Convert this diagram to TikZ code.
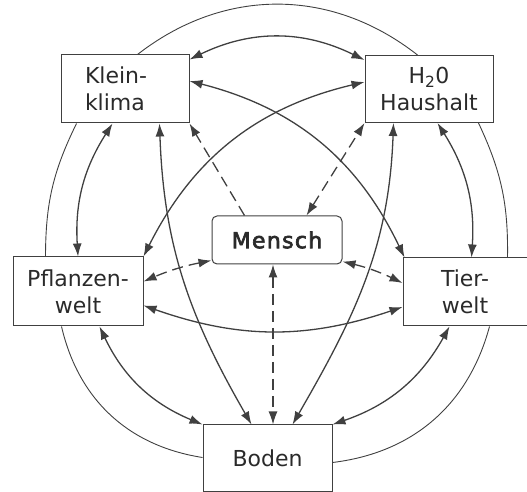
\documentclass[tikz,border=0pt]{standalone}
\usepackage{fontspec}
\setmainfont{DejaVu Sans}
\newfontfamily\menschfont[FakeBold=3,LetterSpace=6]{DejaVu Sans}
\usetikzlibrary{arrows.meta,positioning}
\definecolor{LineGray}{HTML}{404040}
\definecolor{TextGray}{HTML}{2A2A2A}

\begin{document}
\begin{tikzpicture}[x=1pt,y=1pt,>={Latex[length=13pt,width=9pt]}]
\tikzstyle{box}=[draw=LineGray,line width=1pt,align=center,inner sep=0pt,text=TextGray,font=\fontsize{22}{27}\selectfont]
\tikzstyle{ring}=[draw=LineGray,line width=0.9pt]
\tikzstyle{link}=[draw=LineGray,line width=1.3pt,<->]
\tikzstyle{human}=[draw=LineGray,line width=1.3pt,dash pattern=on 11pt off 6pt]
\useasboundingbox (0,0) rectangle (527,492);
\node[box,minimum width=128pt,minimum height=68pt,text width=80pt,align=left] (klima) at (125,403) {Klein-\\klima};
\node[box,minimum width=128pt,minimum height=67pt,right=175pt of klima] (wasser) {H\textsubscript{2}0\\Haushalt};
\node[box,minimum width=130pt,minimum height=69pt] (pflanzen) at (78,200.5) {Pflanzen-\\welt};
\node[box,minimum width=124pt,minimum height=68pt] (tier) at (465,200) {Tier-\\welt};
\node[box,minimum width=129pt,minimum height=67pt] (boden) at (267.5,33.5) {Boden};
\node[box,rounded corners=5pt,minimum width=130pt,minimum height=48pt,font=\menschfont\fontsize{22}{27}\selectfont] (mensch) at (277,252) {Mensch};
\draw[ring] ([xshift=77pt]klima.north west) to[bend left=38] ([xshift=53pt]wasser.north west);
\draw[ring] ([xshift=-15pt]wasser.south east) to[bend left=13] ([xshift=-20pt]tier.north east);
\draw[ring] ([xshift=-38pt]tier.south east) to[bend left=34] ([yshift=-4pt]boden.east);
\draw[ring] ([yshift=1pt]boden.west) to[bend left=34] ([xshift=49pt]pflanzen.south west);
\draw[ring] ([xshift=33pt]pflanzen.north west) to[bend left=13] ([xshift=16pt]klima.south west);
\draw[link] ([yshift=-5pt]klima.north east) to[bend left=26] ([yshift=-5pt]wasser.north west);
\draw[link] ([xshift=73pt]wasser.south west) to[bend left=18] ([xshift=69pt]tier.north west);
\draw[link] ([xshift=47pt]tier.south west) to[bend left=21] (boden.north east);
\draw[link] (boden.north west) to[bend left=21] ([xshift=87pt]pflanzen.south west);
\draw[link] (pflanzen.north) to[bend left=18] ([xshift=52pt]klima.south west);
\draw[link] ([yshift=8pt]klima.east) to[bend left=25] ([xshift=2pt]tier.north west);
\draw[link] ([yshift=7pt]wasser.west) to[bend right=25] (pflanzen.north east);
\draw[link] ([xshift=99pt]klima.south west) to[out=-88,in=120] ([xshift=49pt]boden.north west);
\draw[link] ([xshift=29pt]wasser.south west) to[out=-92,in=60] ([xshift=90pt]boden.north west);
\draw[link] ([yshift=-14pt]pflanzen.east) to[bend right=19] ([yshift=-15pt]tier.west);
\draw[human,->] ([xshift=33pt]mensch.north west) -- (klima.south east);
\draw[human,<->] ([xshift=95pt]mensch.north west) -- (wasser.south west);
\draw[human,<->] ([yshift=4pt]mensch.south west) to[bend right=6] ([yshift=10pt]pflanzen.east);
\draw[human,<->] ([yshift=3pt]mensch.south east) to[bend left=6] ([yshift=9pt]tier.west);
\draw[human,<->] ([xshift=-4pt]mensch.south) -- ([xshift=5.5pt]boden.north);
\end{tikzpicture}
\end{document}
